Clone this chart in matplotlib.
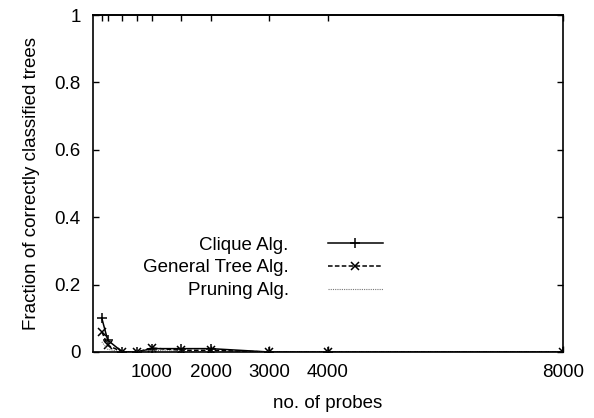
import matplotlib.pyplot as plt

# number of probes used in each run
probes = [150, 250, 500, 750, 1000, 1500, 2000, 3000, 4000, 8000]

# fraction of correctly classified trees
clique = [0.10, 0.035, 0.0, 0.0, 0.01, 0.01, 0.01, 0.0, 0.0, 0.0]
general_tree = [0.06, 0.02, 0.0, 0.0, 0.012, 0.005, 0.005, 0.0, 0.0, 0.0]
pruning = [0.03, 0.008, 0.0, 0.0, 0.005, 0.002, 0.0, 0.0, 0.0, 0.0]

xtick_vals = [1000, 2000, 3000, 4000, 8000]
ytick_vals = [0, 0.2, 0.4, 0.6, 0.8, 1]

plt.rcParams['font.family'] = ['Liberation Sans', 'DejaVu Sans']
plt.rcParams['font.size'] = 13.5

fig = plt.figure(figsize=(5.94, 4.18), dpi=100)
ax = fig.add_axes([0.1566, 0.1579, 0.7912, 0.8061])

ax.plot(probes, clique, color='black', linestyle='-', linewidth=1.1,
        marker='+', markersize=7, markeredgewidth=1.1, label='Clique Alg.')
ax.plot(probes, general_tree, color='black', linestyle=(0, (3, 1.5)), linewidth=1.1,
        marker='x', markersize=6, markeredgewidth=1.1, label='General Tree Alg.')
ax.plot(probes, pruning, color='#777777', linestyle=(0, (1, 1)), linewidth=0.8,
        label='Pruning Alg.')

ax.set_xlim(0, 8000)
ax.set_ylim(0, 1)
ax.set_xticks(xtick_vals)
ax.set_xticklabels([str(v) for v in xtick_vals])
ax.set_yticks(ytick_vals)
ax.set_yticklabels(['0', '0.2', '0.4', '0.6', '0.8', '1'])
ax.tick_params(direction='in', length=4, width=1, top=False, right=True, pad=9)

# data positions marked along the top border
top = ax.secondary_xaxis('top')
top.set_xticks(probes)
top.set_xticklabels([])
top.tick_params(direction='in', length=4, width=1)

for s in ax.spines.values():
    s.set_linewidth(1.2)
top.spines['top'].set_linewidth(1.2)

ax.set_xlabel('no. of probes', labelpad=10)
ax.set_ylabel('Fraction of correctly classified trees', labelpad=10)

ax.legend(loc='center right', bbox_to_anchor=(0.636, 0.25), frameon=False,
          markerfirst=False, handlelength=2.9, labelspacing=0.3,
          handletextpad=2.1, borderpad=0)

fig.savefig('out.png', dpi=100)
